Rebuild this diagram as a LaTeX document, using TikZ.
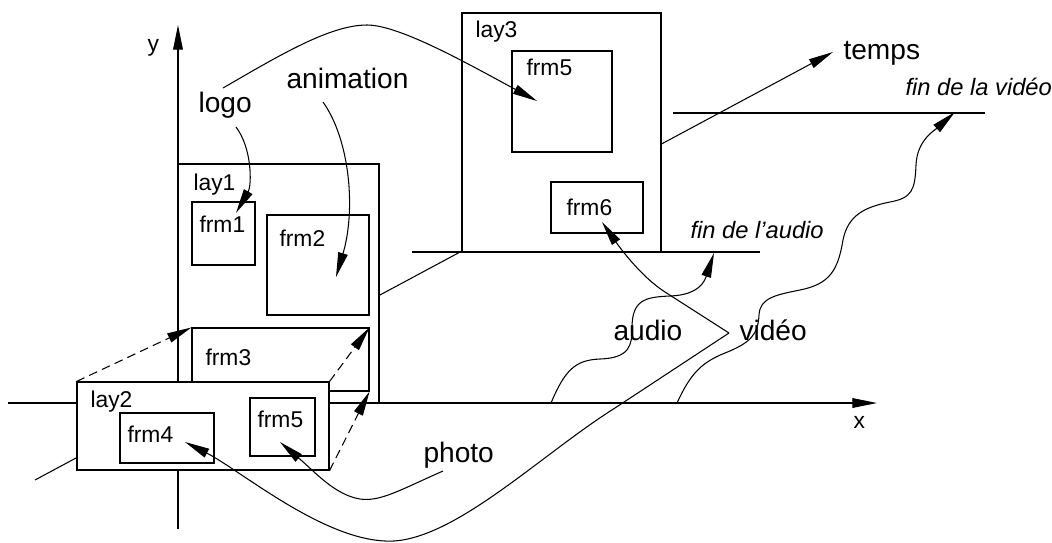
\documentclass[tikz,border=0pt]{standalone}
\usepackage{fontspec}
\setmainfont{Liberation Sans}
\usetikzlibrary{arrows.meta,positioning,fit}
\tikzset{
  big/.style={font=\fontsize{16}{19}\selectfont,inner sep=0pt,anchor=base west},
  small/.style={font=\fontsize{13}{16}\selectfont,inner sep=0pt,anchor=base west},
  note/.style={font=\fontsize{13.5}{16}\selectfont\itshape,inner sep=0pt,anchor=base west},
  arr/.style={-{Triangle[length=14pt,width=5.5pt]},line width=0.6pt},
  darr/.style={arr,dash pattern=on 5pt off 3pt},
}

\begin{document}
\begin{tikzpicture}[
        x=0.02cm, y=-0.02cm, line width=0.6pt,
        layer/.style={rectangle, draw, fill=white, inner sep=0pt, line width=0.6pt}
      ]
        \useasboundingbox (0,0) rectangle (1052,542);

        % Axes
        \coordinate (O)  at (178,403);
        \coordinate (xa) at (8,403);
        \coordinate (xb) at (877,403);
        \coordinate (ya) at (178,529);
        \coordinate (yb) at (178,25);
        \coordinate (ta) at (35,480);
        \coordinate (tb) at (833,52);
        \draw[arr] (xa) -- (xb);
        \draw[arr] (ya) -- (yb);
        \draw[arr] (ta) -- (tb);
        \node[small] (xlbl) at (853,428) {x};
        \node[small] (ylbl) at (147,51) {y};
        \node[big] (temps) at (843,59) {temps};

        % End lines
        \coordinate (fa0) at (412,252);
        \coordinate (fa1) at (760,252);
        \coordinate (fv0) at (673,113);
        \coordinate (fv1) at (985,113);
        \draw (fa0) -- (fa1);
        \draw (fv0) -- (fv1);
        \node[note] (finA) at (690,238) {fin de l’audio};
        \node[note] (finV) at (905,95) {fin de la vidéo};

        % lay3
        \node[layer, fit={(462,13) (661,252)}] (lay3) {};
        \node[small] (lay3lbl) at (475,37) {lay3};
        \node[layer, fit={(512,51) (612,152)}] (frm5b) {};
        \node[small] (frm5blbl) at (526,75) {frm5};
        \node[layer, fit={(551,182) (643,233)}] (frm6) {};
        \node[small] (frm6lbl) at (566,215) {frm6};

        % lay1
        \node[layer, fit={(178,164) (379,403)}] (lay1) {};
        \node[small] (lay1lbl) at (193,190) {lay1};
        \node[layer, fit={(192,202) (255,265)}] (frm1) {};
        \node[small] (frm1lbl) at (199,232) {frm1};
        \node[layer, fit={(267,215) (369,315)}] (frm2) {};
        \node[small] (frm2lbl) at (279,246) {frm2};
        \node[layer, fit={(192,328) (369,391)}] (frm3) {};
        \node[small] (frm3lbl) at (205,365) {frm3};

        % lay2
        \node[layer, fit={(77,382) (329,470)}] (lay2) {};
        \node[small] (lay2lbl) at (90,407) {lay2};
        \node[layer, fit={(120,413) (214,463)}] (frm4) {};
        \node[small] (frm4lbl) at (127,442) {frm4};
        \node[layer, fit={(250,398) (315,456)}] (frm5a) {};
        \node[small] (frm5albl) at (257,427) {frm5};

        % lay2 -> frm3
        \draw[darr] (lay2.north west) -- (frm3.north west);
        \draw[darr] (lay2.north east) -- (frm3.north east);
        \draw[darr] (lay2.south east) -- (frm3.south east);

        % Media labels
        \node[big] (logo) at (198,112) {logo};
        \node[big] (anim) at (286,88) {animation};
        \node[big] (photo) at (423,462) {photo};
        \node[big] (audio) at (613,340) {audio};
        \node[big] (video) at (739,340) {vidéo};

        % logo
        \coordinate (lg0) at (223,88);
        \coordinate (lg1) at (236,127);
        \coordinate (tip5b) at (537,101);
        \coordinate (tip1) at (236,213);
        \draw[arr] (lg0) .. controls (280,55) and (330,25) .. (367,25)
                         .. controls (400,25) and (470,65) .. (tip5b);
        \draw[arr] (lg1) .. controls (252,148) and (252,185) .. (tip1);

        % animation
        \coordinate (an0) at (323,102);
        \coordinate (tip2) at (336,277);
        \draw[arr] (an0) .. controls (350,140) and (356,210) .. (tip2);

        % photo
        \coordinate (ph0) at (443,471);
        \coordinate (tip5a) at (280,442);
        \draw[arr] (ph0) .. controls (400,490) and (380,502) .. (360,499)
                         .. controls (335,495) and (315,472) .. (tip5a);

        % video -> frm6, frm4
        \coordinate (V) at (729,333);
        \coordinate (tip6) at (602,222);
        \coordinate (tip4) at (185,442);
        \draw[arr] (V) -- (665,292) .. controls (640,276) and (618,245) .. (tip6);
        \draw[arr] (V) -- (615,408) .. controls (540,455) and (450,545) .. (385,541)
                       .. controls (320,538) and (240,470) .. (tip4);

        % audio stream
        \coordinate (au0) at (551,403);
        \coordinate (auTip) at (714,253);
        \draw[arr] (au0) .. controls (565,370) and (575,360) .. (600,359)
                         .. controls (630,358) and (632,345) .. (632,328)
                         .. controls (632,300) and (645,297) .. (670,296)
                         .. controls (700,295) and (705,280) .. (auTip);

        % video stream
        \coordinate (vd0) at (677,403);
        \coordinate (vdTip) at (955,112);
        \draw[arr] (vd0) .. controls (690,375) and (700,363) .. (725,353)
                         .. controls (750,343) and (758,335) .. (759,315)
                         .. controls (760,298) and (775,295) .. (800,290)
                         .. controls (830,284) and (838,270) .. (843,240)
                         .. controls (848,215) and (865,207) .. (890,202)
                         .. controls (912,198) and (915,190) .. (916,165)
                         .. controls (917,140) and (935,130) .. (vdTip);

      \end{tikzpicture}
\end{document}
